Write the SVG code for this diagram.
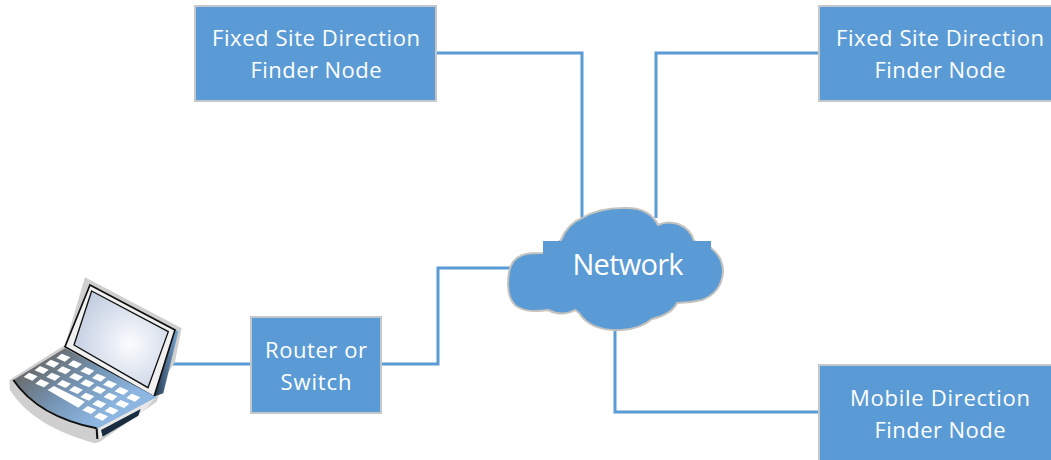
<svg xmlns="http://www.w3.org/2000/svg" width="1051" height="460" viewBox="0 0 1051 460">
<style>
.box{fill:#5b9bd5;stroke:#c4c8cc;stroke-width:2}
.wire{fill:none;stroke:#5b9bd5;stroke-width:3}
.t{font-family:"Open Sans","Noto Sans",sans-serif;font-size:22px;fill:#fff;text-anchor:middle}
</style>
<defs>
<radialGradient id="screen" cx=".6" cy=".55" r=".7"><stop offset="0" stop-color="#fbfcfe"/><stop offset="1" stop-color="#bcc9de"/></radialGradient>
<linearGradient id="deck" gradientUnits="userSpaceOnUse" x1="130" y1="290" x2="270" y2="480"><stop offset="0" stop-color="#6a6e72"/><stop offset=".5" stop-color="#7595b5"/><stop offset="1" stop-color="#8db6e0"/></linearGradient>
<linearGradient id="side" x1="0" y1="0" x2="1" y2="0"><stop offset="0" stop-color="#1e3044"/><stop offset="1" stop-color="#7aa5d2"/></linearGradient>
<path id="key" d="M-21 1L-5 -12L21 -1L5 12Z" fill="#fff"/>
</defs>
<g id="connectors">
<path class="wire" d="M436 53H582V222"/>
<path class="wire" d="M819 53H656V218"/>
<path class="wire" d="M381 364H438V268H512"/>
<path class="wire" d="M615 326V412H819"/>
<path class="wire" d="M171 364H251"/>
</g>
<g id="node-fixed-1"><rect class="box" x="195" y="6" width="241" height="95"/>
<text class="t" x="316" y="46" textLength="208" lengthAdjust="spacing">Fixed Site Direction</text><text class="t" x="316" y="78" textLength="131" lengthAdjust="spacing">Finder Node</text></g>
<g id="node-fixed-2"><rect class="box" x="819" y="6" width="240" height="95"/>
<text class="t" x="940" y="46" textLength="208" lengthAdjust="spacing">Fixed Site Direction</text><text class="t" x="940" y="78" textLength="131" lengthAdjust="spacing">Finder Node</text></g>
<g id="node-router"><rect class="box" x="251" y="317" width="130" height="96"/>
<text class="t" x="316" y="358" textLength="102" lengthAdjust="spacing">Router or</text><text class="t" x="316" y="390" textLength="71" lengthAdjust="spacing">Switch</text></g>
<g id="node-mobile"><rect class="box" x="819" y="365" width="240" height="96"/>
<text class="t" x="940" y="406" textLength="180" lengthAdjust="spacing">Mobile Direction</text><text class="t" x="940" y="438" textLength="131" lengthAdjust="spacing">Finder Node</text></g>
<g id="node-network">
<path d="M561 240C566 228 574 221 582 218C594 211 608 208 622 208C640 207 652 212 658 225C664 222 672 222 678 224C686 227 692 233 694 241L711 248C719 254 723 263 723 272C722 285 715 295 702 300C694 302 685 303 677 303C673 312 664 316 652 319C645 325 636 329 622 330C603 331 588 327 579 313L575 310C568 314 558 315 548 310C536 312 525 312 516 306C508 299 507 285 509 272C511 262 517 256 526 254C532 253 538 253 543 253Z" fill="#5b9bd5" stroke="#c4c2be" stroke-width="2"/>
<rect x="543" y="241" width="168" height="30" fill="#5b9bd5"/>
<text x="628" y="275" font-family="'Open Sans','Noto Sans',sans-serif" font-size="29px" fill="#fff" text-anchor="middle" textLength="111" lengthAdjust="spacing">Network</text>
</g>
<g id="node-laptop" transform="translate(0 265) scale(.3333)">
<path d="M255 37L545 190L525 290L500 330L470 410L300 530L285 535C200 510 90 470 30 375L28 345L195 240Z" fill="#cfcfcf"/>
<path d="M525 192L535 200L490 385L460 395Z" fill="url(#side)"/>
<path d="M270 60L525 195L462 395L195 245Z" fill="#f0f0f0" stroke="#111" stroke-width="5"/>
<path d="M275 78L505 200L444 368L222 240Z" fill="url(#screen)" stroke="#111" stroke-width="4"/>
<path d="M195 250L470 397L295 490C190 470 100 420 40 345Z" fill="url(#deck)"/>
<path d="M40 345C95 425 190 470 290 490" fill="none" stroke="#111" stroke-width="6"/>
<path d="M295 490L470 397L460 405L430 440L298 522Z" fill="#e8e8e8"/>
<path d="M303 495L308 515L415 452L422 432Z" fill="#1a2c40"/>
<path d="M290 490L292 522" stroke="#111" stroke-width="6"/>
<use href="#key" x="190" y="278"/><use href="#key" x="225" y="298"/><use href="#key" x="262" y="318"/><use href="#key" x="297" y="338"/><use href="#key" x="330" y="358"/><use href="#key" x="365" y="378"/><use href="#key" x="400" y="398"/>
<use href="#key" x="157" y="296"/><use href="#key" x="192" y="316"/><use href="#key" x="228" y="336"/><use href="#key" x="262" y="355"/><use href="#key" x="297" y="375"/><use href="#key" x="332" y="395"/><use href="#key" x="367" y="417"/>
<use href="#key" x="125" y="315"/><use href="#key" x="160" y="335"/><use href="#key" x="192" y="357"/><use href="#key" x="228" y="375"/><use href="#key" x="262" y="395"/><use href="#key" x="298" y="417"/><use href="#key" x="335" y="437"/>
<use href="#key" x="92" y="335"/><use href="#key" x="127" y="355"/><use href="#key" x="268" y="435"/><use href="#key" x="303" y="455"/>
<path d="M143 375L162 363L255 410L235 428Z" fill="#fff"/>
</g>
</svg>
